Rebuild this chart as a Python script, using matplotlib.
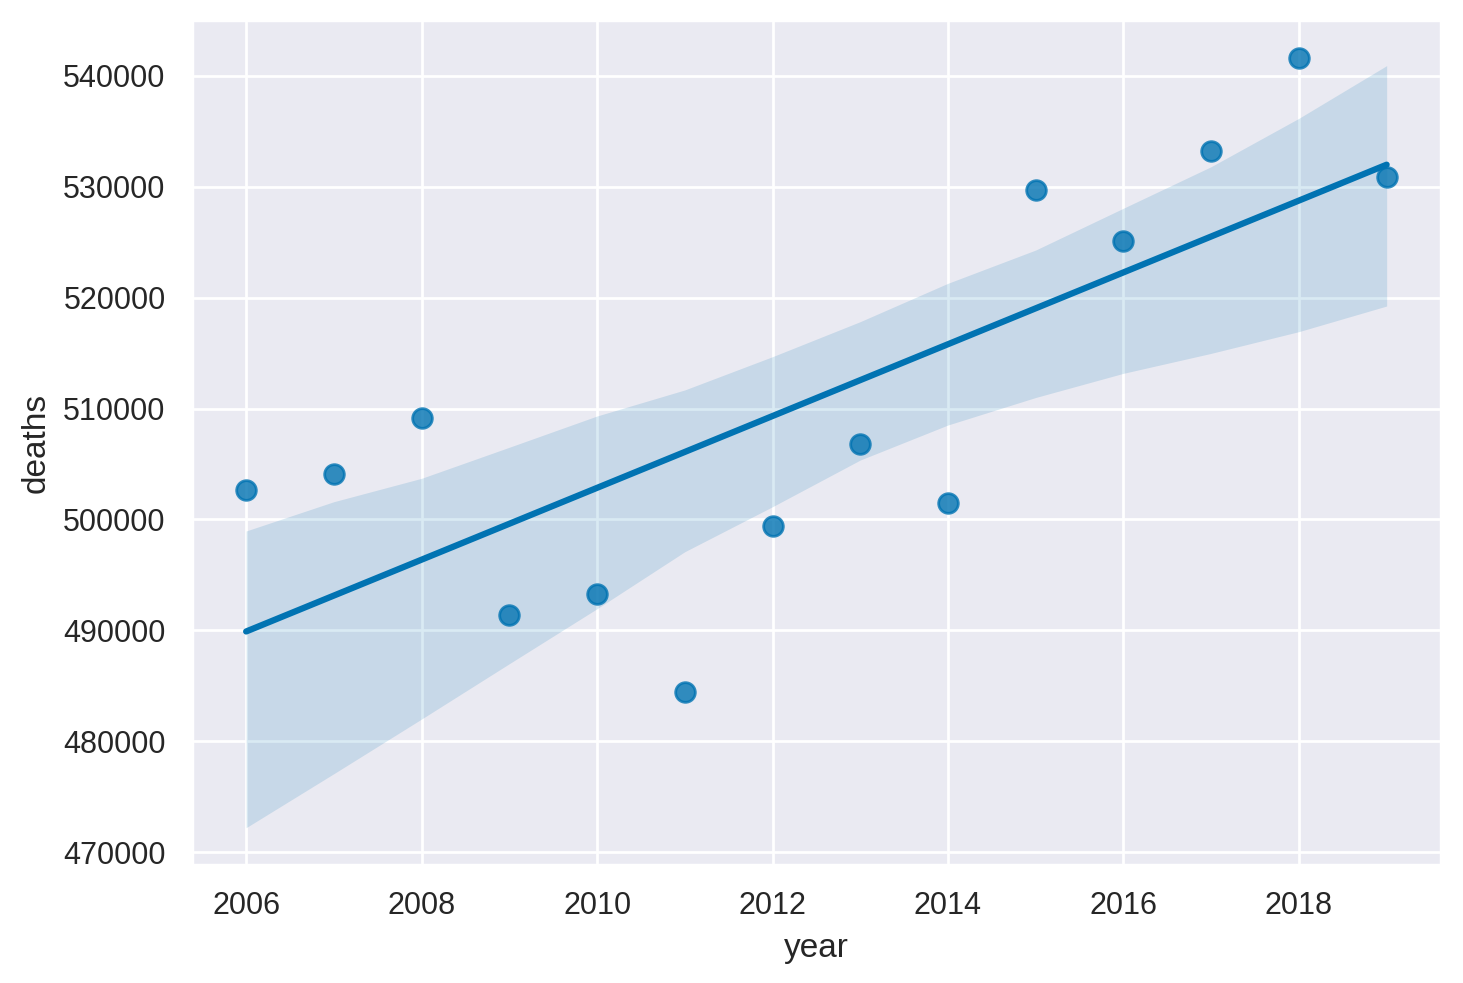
import numpy as np
import matplotlib.pyplot as plt
import seaborn as sns

years = [2006, 2007, 2008, 2009, 2010, 2011, 2012,
         2013, 2014, 2015, 2016, 2017, 2018, 2019]
deaths = [502650, 504100, 509150, 491380, 493270, 484430, 499400,
          506800, 501480, 529720, 525120, 533240, 541620, 530890]
# confidence band edges (bootstrapped, so uneven)
ci_low = [472200, 477070, 482000, 486990, 491950, 497090, 501150,
          505360, 508520, 511000, 513180, 514980, 516940, 519250]
ci_high = [498960, 501600, 503710, 506510, 509330, 511680, 514680,
           517840, 521300, 524300, 528070, 531820, 536180, 540930]

sns.set_theme(style="darkgrid", context="notebook")
plt.rcParams['font.family'] = ['Liberation Sans', 'DejaVu Sans']

color = "#0173b2"

x = np.array(years, dtype=float)
y = np.array(deaths, dtype=float)

# straight-line fit
slope, intercept = np.polyfit(x, y, 1)
grid = np.linspace(x.min(), x.max(), 100)
fit = intercept + slope * grid

fig = plt.figure(figsize=(7.315, 4.915), dpi=200)
ax = fig.add_axes([0.1313, 0.12, 0.8537, 0.8597])

ax.scatter(x, y, s=50, color=color, edgecolors=color, alpha=0.8, linewidths=1)
ax.plot(grid, fit, color=color, lw=2.25)
ax.fill_between(x, ci_low, ci_high, color=color, alpha=0.15, linewidth=0)

ax.set_xlim(2005.384, 2019.62)
ax.set_ylim(468830, 545050)
ax.set_xlabel("year")
ax.set_ylabel("deaths")

fig.savefig("out.png", dpi=200)
